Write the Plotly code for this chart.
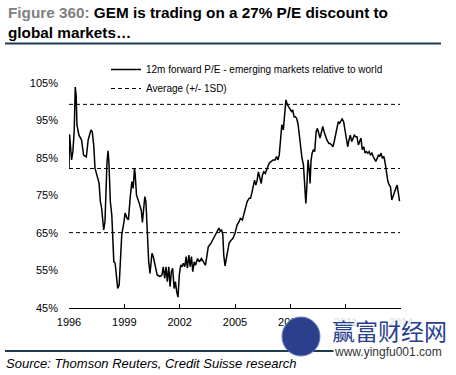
import plotly.graph_objects as go

# ---- data ----
dates = [
    1996.00, 1996.03, 1996.14, 1996.21, 1996.28, 1996.34, 1996.39, 1996.43, 1996.54, 1996.68,
    1996.79, 1996.94, 1997.04, 1997.19, 1997.26, 1997.34, 1997.41, 1997.55, 1997.63, 1997.70,
    1997.77, 1997.88, 1997.95, 1998.06, 1998.12, 1998.17, 1998.24, 1998.32, 1998.43, 1998.50,
    1998.57, 1998.64, 1998.72, 1998.79, 1998.86, 1998.97, 1999.04, 1999.15, 1999.22, 1999.33,
    1999.41, 1999.48, 1999.55, 1999.59, 1999.66, 1999.81, 1999.92, 1999.98, 2000.06, 2000.11,
    2000.17, 2000.24, 2000.32, 2000.39, 2000.50, 2000.57, 2000.68, 2000.78, 2000.93, 2001.04,
    2001.11, 2001.19, 2001.26, 2001.33, 2001.41, 2001.48, 2001.55, 2001.62, 2001.70, 2001.77,
    2001.84, 2001.91, 2001.98, 2002.06, 2002.13, 2002.20, 2002.28, 2002.35, 2002.42, 2002.50,
    2002.57, 2002.64, 2002.71, 2002.79, 2002.86, 2002.97, 2003.07, 2003.18, 2003.29, 2003.40,
    2003.55, 2003.70, 2003.84, 2003.98, 2004.13, 2004.20, 2004.27, 2004.34, 2004.39, 2004.46,
    2004.57, 2004.68, 2004.79, 2004.89, 2005.00, 2005.11, 2005.22, 2005.29, 2005.40, 2005.51,
    2005.58, 2005.66, 2005.77, 2005.84, 2005.91, 2005.98, 2006.06, 2006.13, 2006.20, 2006.27,
    2006.34, 2006.42, 2006.49, 2006.56, 2006.64, 2006.75, 2006.86, 2006.97, 2007.07, 2007.18,
    2007.25, 2007.33, 2007.40, 2007.47, 2007.54, 2007.62, 2007.69, 2007.76, 2007.84, 2007.91,
    2007.98, 2008.06, 2008.13, 2008.20, 2008.27, 2008.34, 2008.42, 2008.49, 2008.56, 2008.63,
    2008.71, 2008.78, 2008.84, 2008.89, 2008.96, 2009.04, 2009.07, 2009.12, 2009.18, 2009.25,
    2009.32, 2009.40, 2009.47, 2009.54, 2009.61, 2009.69, 2009.76, 2009.83, 2009.91, 2009.98,
    2010.09, 2010.16, 2010.24, 2010.31, 2010.38, 2010.45, 2010.52, 2010.60, 2010.67, 2010.74,
    2010.81, 2010.89, 2010.96, 2011.03, 2011.11, 2011.18, 2011.25, 2011.33, 2011.40, 2011.47,
    2011.54, 2011.61, 2011.69, 2011.76, 2011.83, 2011.90, 2011.98, 2012.05, 2012.12, 2012.20,
    2012.27, 2012.34, 2012.42, 2012.49, 2012.56, 2012.63, 2012.71, 2012.78, 2012.85, 2012.92,
    2012.99, 2013.07, 2013.14, 2013.21, 2013.29, 2013.36, 2013.43, 2013.50, 2013.58, 2013.65,
    2013.72, 2013.79, 2013.86, 2013.92,
]
pe_relative = [
    82.3, 91.3, 84.5, 86.7, 92.0, 103.9, 101.5, 93.8, 91.1, 89.8,
    85.8, 85.3, 89.8, 92.5, 92.0, 88.5, 82.3, 79.6, 78.3, 73.4,
    71.6, 65.8, 68.0, 84.0, 86.9, 83.2, 73.4, 69.8, 57.3, 57.0,
    53.8, 50.2, 51.1, 57.3, 64.5, 67.6, 70.3, 68.9, 68.5, 75.1,
    78.7, 76.9, 82.3, 80.5, 75.1, 72.9, 71.0, 67.8, 73.4, 74.7,
    73.4, 65.4, 57.4, 54.2, 59.6, 58.7, 55.6, 53.8, 53.4, 53.8,
    56.0, 52.9, 56.0, 52.0, 56.0, 50.7, 54.7, 55.6, 50.2, 52.0,
    49.3, 47.9, 53.8, 56.5, 56.0, 56.9, 56.0, 58.7, 55.6, 59.1,
    56.0, 58.7, 54.7, 57.3, 56.4, 58.2, 57.3, 58.2, 57.3, 56.4,
    61.3, 62.3, 63.6, 64.9, 66.3, 65.4, 65.9, 64.5, 59.1, 56.2,
    59.6, 62.3, 63.1, 63.6, 64.9, 67.1, 68.0, 68.9, 68.5, 70.7,
    72.5, 73.4, 74.3, 74.3, 75.6, 76.9, 79.1, 77.8, 79.1, 81.3,
    80.0, 78.2, 80.5, 81.3, 80.9, 82.3, 83.7, 84.1, 84.5, 84.5,
    85.4, 84.5, 85.9, 89.9, 93.9, 92.5, 97.4, 100.5, 99.2, 98.7,
    98.3, 97.4, 97.8, 96.0, 96.0, 95.6, 94.0, 91.0, 87.5, 85.0,
    83.2, 78.7, 72.9, 76.9, 84.5, 80.9, 78.2, 84.1, 86.3, 87.2,
    86.7, 92.0, 92.9, 91.6, 90.3, 92.0, 93.4, 92.0, 90.7, 89.8,
    88.9, 88.9, 88.5, 88.0, 89.4, 91.1, 92.5, 94.7, 94.3, 95.1,
    95.4, 94.7, 92.5, 91.1, 88.0, 89.8, 91.1, 89.4, 90.3, 91.1,
    90.7, 90.7, 88.5, 89.4, 90.3, 87.2, 88.0, 86.3, 86.7, 86.3,
    86.7, 85.9, 86.3, 85.4, 84.9, 84.1, 84.9, 85.9, 85.4, 86.3,
    84.9, 85.4, 83.7, 81.3, 78.7, 77.8, 77.3, 73.8, 75.1, 75.6,
    76.9, 77.8, 76.0, 73.5,
]
band_dates = [1996.0, 2013.95]
average = 82.2
one_sd = 17.1
band_levels = [average + one_sd, average, average - one_sd]

x_ticks = [1996, 1999, 2002, 2005, 2008, 2011, 2014]
y_ticks = [45, 55, 65, 75, 85, 95, 105]
y_tick_labels = [f"{v}%" for v in y_ticks]

series_name = "12m forward P/E - emerging markets relative to world"
band_name = "Average (+/- 1SD)"
title_grey = "Figure 360:"
title_main = "GEM is trading on a 27% P/E discount to<br>global markets…"
source_text = "Source: Thomson Reuters, Credit Suisse research"

ARIAL = "Liberation Sans, Arial, sans-serif"

fig = go.Figure()

for i, lvl in enumerate(band_levels):
    fig.add_trace(go.Scatter(
        x=band_dates, y=[lvl, lvl], mode="lines",
        line=dict(color="black", width=1, dash="4px,3px"),
        name=band_name, showlegend=(i == 0), hoverinfo="skip",
    ))

fig.add_trace(go.Scatter(
    x=dates, y=pe_relative, mode="lines",
    line=dict(color="black", width=1.5),
    name=series_name,
))

# plot area: left 69, right 401 px, top 83, bottom 308 px
L, R, T, B = 69, 401, 83, 308
W, H = R - L, B - T
def px_x(p):
    return (p - L) / W
def px_y(p):
    return (B - p) / H

fig.update_layout(
    width=456, height=375,
    margin=dict(l=L, r=456 - R, t=T, b=375 - B, pad=0),
    paper_bgcolor="white", plot_bgcolor="white",
    font=dict(family=ARIAL, size=11, color="black"),
    showlegend=True,
    legend=dict(
        x=px_x(106), y=px_y(55), xanchor="left", yanchor="top",
        traceorder="reversed", bgcolor="rgba(0,0,0,0)",
        font=dict(family=ARIAL, size=10, color="black"),
        tracegroupgap=0, itemwidth=30,
    ),
    xaxis=dict(
        range=[1996, 2014], tickvals=x_ticks, showgrid=False, zeroline=False,
        showline=True, linecolor="black", linewidth=1,
        ticks="inside", ticklen=4, tickcolor="black",
        ticklabelstandoff=4,
        tickfont=dict(family=ARIAL, size=11, color="black"),
    ),
    yaxis=dict(
        range=[45, 105], tickvals=y_ticks, ticktext=y_tick_labels, showgrid=False,
        zeroline=False, showline=False, ticks="",
        ticklabelstandoff=10,
        tickfont=dict(family=ARIAL, size=11, color="black"),
    ),
)

# title
fig.add_annotation(
    xref="paper", yref="paper", x=px_x(6), y=px_y(2), xanchor="left", yanchor="top",
    align="left", showarrow=False,
    text=f"<span style='color:#808080'><b>{title_grey}</b></span> <b>{title_main}</b>",
    font=dict(family=ARIAL, size=15.3, color="black"),
)
fig.add_shape(type="line", xref="paper", yref="paper",
              x0=px_x(5), x1=px_x(441), y0=px_y(43.5), y1=px_y(43.5),
              line=dict(color="#1d3a50", width=2))
# source
fig.add_shape(type="line", xref="paper", yref="paper",
              x0=px_x(5), x1=px_x(441), y0=px_y(351), y1=px_y(351),
              line=dict(color="#1d3a50", width=2))
fig.add_annotation(
    xref="paper", yref="paper", x=px_x(4), y=px_y(363), xanchor="left", yanchor="middle",
    showarrow=False, text=f"<i>{source_text}</i>",
    font=dict(family=ARIAL, size=13, color="black"),
)

# watermark
fig.add_shape(type="circle", xref="paper", yref="paper",
              x0=px_x(282), x1=px_x(320), y0=px_y(356), y1=px_y(317),
              fillcolor="#2c3f8c", line=dict(color="#6b7fc0", width=1))
fig.add_annotation(
    xref="paper", yref="paper", x=px_x(389), y=px_y(330), xanchor="center", yanchor="middle",
    showarrow=False, text="赢富财经网", bgcolor="rgba(255,255,255,0.85)", borderpad=0,
    font=dict(family="Noto Sans CJK SC", size=23, color="#27408f"),
)
fig.add_annotation(
    xref="paper", yref="paper", x=px_x(388), y=px_y(352), xanchor="center", yanchor="middle",
    showarrow=False, text="www.yingfu001.com", bgcolor="white", borderpad=0,
    font=dict(family=ARIAL, size=12, color="#333333"),
)

fig.write_html("out.html", config={"displayModeBar": False},
               post_script="document.body.style.margin='0';")
